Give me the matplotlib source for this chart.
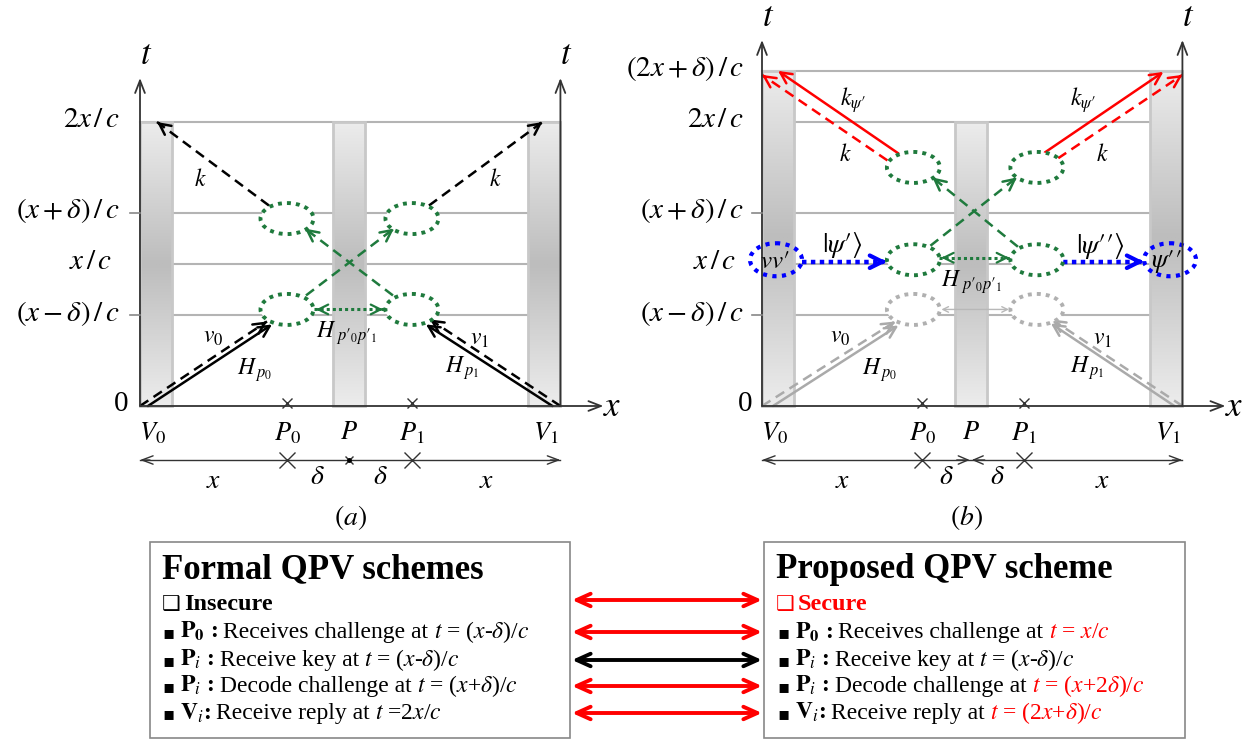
import numpy as np
import matplotlib.pyplot as plt
from matplotlib.patches import Ellipse, Rectangle
from matplotlib.colors import LinearSegmentedColormap
from matplotlib.offsetbox import TextArea, HPacker, AnnotationBbox

plt.rcParams['font.family'] = ['Liberation Serif', 'DejaVu Sans']
plt.rcParams['mathtext.fontset'] = 'stix'

# positions along space (units of x) for V0, P0, P, P1, V1
space_names = [r'$V_0$', r'$P_0$', r'$P$', r'$P_1$', r'$V_1$']
space_a = [0.0, 1.0, 1.42, 1.85, 2.86]
space_b = [0.0, 1.09, 1.42, 1.78, 2.86]

# time levels (units of x/c)
time_names_a = ['0', r'$(x-\delta)\,/\,c$', r'$x\,/\,c$', r'$(x+\delta)\,/\,c$', r'$2x\,/\,c$']
time_a = [0.0, 0.64, 1.0, 1.36, 2.0]
time_names_b = time_names_a + [r'$(2x+\delta)\,/\,c$']
time_b = [0.0, 0.64, 1.0, 1.36, 2.0, 2.36]

# event bubbles
bubble_t_a = [0.68, 1.32]
bubble_x_b = [1.03, 1.87]
bubble_t_b = [0.68, 1.03, 1.68]

# comparison boxes
formal_keys = [r'$\mathbf{P}_\mathbf{0}$ :', r'$\mathbf{P}_{\mathit{i}}$ :',
               r'$\mathbf{P}_{\mathit{i}}$ :', r'$\mathbf{V}_{\mathit{i}}$:']
actions = ['Receives challenge at', 'Receive key at', 'Decode challenge at', 'Receive reply at']
formal_times = [r'$t$ = ($x$-$\delta$)/$c$', r'$t$ = ($x$-$\delta$)/$c$',
                r'$t$ = ($x$+$\delta$)/$c$', r'$t$ =2$x$/$c$']
proposed_times = [r'$t$ = $x$/$c$', r'$t$ = ($x$-$\delta$)/$c$',
                  r'$t$ = ($x$+2$\delta$)/$c$', r'$t$ = (2$x$+$\delta$)/$c$']
proposed_colors = ['red', 'black', 'red', 'red']
link_colors = ['red', 'red', 'black', 'red', 'red']

GREEN = '#1f7a3d'
RED = '#ff0000'
BLUE = '#0000ff'
LGRAY = '#b4b4b4'
AX = '#333333'
PR = '\u2032'

ORIGIN = {'a': 140, 'b': 762}
Y0 = 406
SX, SY = 147, 142
BW = 32
EW, EH = 53, 31


def px(p, u):
    return ORIGIN[p] + SX * u


def py(t):
    return Y0 - SY * t


fig = plt.figure(figsize=(12.6, 7.4), dpi=100)
ax = fig.add_axes([0, 0, 1, 1])

bar_cmap = LinearSegmentedColormap.from_list('bar', ['#ececec', '#bdbdbd'])
grad = np.concatenate([np.linspace(0, 1, 60), np.linspace(1, 0, 60)])[:, None]


def gray_bar(x0, t_top):
    ax.imshow(grad, cmap=bar_cmap, extent=(x0, x0 + BW, py(0), py(t_top)),
              aspect='auto', interpolation='bilinear', zorder=2)
    ax.add_patch(Rectangle((x0, py(t_top)), BW, py(0) - py(t_top), fill=False,
                           ec='#c8c8c8', lw=2, zorder=2.1))


def arrow(p0, p1, color='k', lw=1.8, style='->', hw=0.4, hl=0.8, z=5):
    ax.annotate('', xy=p1, xytext=p0, zorder=z,
                arrowprops=dict(arrowstyle=f'{style},head_width={hw},head_length={hl}',
                                color=color, lw=lw, shrinkA=0, shrinkB=0))


def head(p0, p1, color, lw=1.8, hw=0.4, hl=0.8, z=5):
    d = np.subtract(p1, p0) / np.hypot(*np.subtract(p1, p0))
    arrow((p1[0] - 3 * d[0], p1[1] - 3 * d[1]), p1, color, lw, hw=hw, hl=hl, z=z)


def dashed_arrow(p0, p1, color='k', lw=1.8, ls=(0, (4, 2.5)), hw=0.4, hl=0.8, z=5):
    ax.plot([p0[0], p1[0]], [p0[1], p1[1]], color=color, lw=lw, ls=ls, zorder=z)
    head(p0, p1, color, lw, hw, hl, z)


def dotted_double(x0, x1, y, color=GREEN):
    ax.plot([x0, x1], [y, y], color=color, lw=2.2, ls=(0, (1, 1)), zorder=7)
    head((x1, y), (x0 + 2, y), color, lw=1.6, hw=0.35, hl=0.7, z=7)
    head((x0, y), (x1 - 2, y), color, lw=1.6, hw=0.35, hl=0.7, z=7)


def bubble(c, color=GREEN, fill='white', w=EW, h=EH, lw=2.8):
    ax.add_patch(Ellipse(c, w, h, fc=fill, ec=color, lw=lw, ls=(0, (1, 1.3)), zorder=6))


def math(x, y, s, size=17, ha='center', **kw):
    ax.text(x, y, s, fontsize=size, ha=ha, va='center', zorder=8, **kw)


def frame(p, space, times, names, t_axis_top, label_end, tick_idx):
    x0, x1 = px(p, space[0]), px(p, space[-1])
    # t axes and x axis
    for xx in (x0, x1):
        arrow((xx, Y0), (xx, t_axis_top), AX, lw=1.3, hw=0.35, hl=0.9, z=7)
        math(xx + 6, t_axis_top - 22, r'$t$', size=25)
    arrow((x0, Y0), (x1 + 43, Y0), AX, lw=1.3, hw=0.35, hl=0.9, z=7)
    math(x1 + 52, Y0 + 2, r'$x$', size=25)
    # level labels and ticks
    for i, (t, s) in enumerate(zip(times, names)):
        off = {r'$x\,/\,c$': -8, '0': 8}.get(s, 0)
        math(label_end + off, py(t) - 2, s, size=21, ha='right')
        if i in tick_idx:
            ax.plot([x0 - 10, x0], [py(t), py(t)], color='#888888', lw=1.2, zorder=7)
    # space labels
    offs = [12, 0, 0, 0, -15]
    for u, s, o in zip(space, space_names, offs):
        math(px(p, u) + o, Y0 + 27, s, size=19)
    for u in (space[1], space[3]):
        ax.plot(px(p, u), Y0 - 3, marker='x', color=AX, ms=7, mew=1, zorder=8)
    # dimension line
    yd = 460
    arrow((x0 + 10, yd), (x0, yd), AX, lw=1, hw=0.3, hl=0.8)
    arrow((x1 - 10, yd), (x1, yd), AX, lw=1, hw=0.3, hl=0.8)
    ax.plot([x0, x1], [yd, yd], color=AX, lw=1, zorder=5)
    for u in (space[1], space[3]):
        ax.plot(px(p, u), yd, marker='x', color=AX, ms=11, mew=1, zorder=6)
    for k, s in enumerate([r'$x$', r'$\delta$', r'$\delta$', r'$x$']):
        mid = 0.5 * (space[k] + space[k + 1])
        math(px(p, mid), yd + (22 if s == r'$x$' else 18), s, size=20)


# ---------------- panel (a) ----------------
P0a, Pa, P1a, V1a = [px('a', u) for u in space_a[1:]]
V0a = px('a', 0)
ax.plot([V0a, V1a], [py(2.0)] * 2, color=LGRAY, lw=1.5, zorder=1)
for t in time_a[1:4]:
    ax.plot([V0a + BW, V1a - BW], [py(t)] * 2, color=LGRAY, lw=1.5, zorder=1)
gray_bar(V0a, 2.0)
gray_bar(Pa - BW / 2, 2.0)
gray_bar(V1a - BW, 2.0)
frame('a', space_a, time_a, time_names_a, 78, 120, [1, 3])
ax.plot(Pa, 460, marker='x', color=AX, ms=6, mew=1, zorder=6)
ax.plot(Pa, 460, marker='.', color='k', ms=5, zorder=6)

lo, hi = py(bubble_t_a[0]), py(bubble_t_a[1])
for xb in (P0a, P1a):
    bubble((xb, lo))
    bubble((xb, hi))
# challenges from verifiers
dashed_arrow((V0a, Y0), (P0a - 20, lo + 12))
arrow((V0a + 8, Y0), (P0a - 15, lo + 15))
dashed_arrow((V1a, Y0), (P1a + 18, lo + 10))
arrow((V1a - 8, Y0), (P1a + 14, lo + 15))
math(213, 338, r'$v_0$')
math(255, 370, r'$H_{\,p_0}$')
math(480, 340, r'$v_1$')
math(462, 368, r'$H_{\,p_1}$')
# exchange between provers
dashed_arrow((P0a + 19, lo - 14), (P1a - 18, hi + 10), GREEN, lw=1.8)
dashed_arrow((P1a - 19, lo - 14), (P0a + 18, hi + 10), GREEN, lw=1.8)
dotted_double(P0a + 27, P1a - 27, lo)
math(347, 333, rf'$H_{{\ p{PR}_0p{PR}_1}}$')
# replies
dashed_arrow((P0a - 18, hi - 13), (V0a + 17, py(2.0)))
dashed_arrow((P1a + 17, hi - 13), (V1a - 18, py(2.0)))
math(200, 180, r'$k$')
math(495, 180, r'$k$')
math(Pa + 2, 518, r'$(a)$', size=20)

# ---------------- panel (b) ----------------
P0b, Pb, P1b, V1b = [px('b', u) for u in space_b[1:]]
V0b = px('b', 0)
ax.plot([V0b, V1b], [py(2.36)] * 2, color=LGRAY, lw=1.5, zorder=1)
for t in time_b[1:5]:
    ax.plot([V0b + BW, V1b - BW], [py(t)] * 2, color=LGRAY, lw=1.5, zorder=1)
gray_bar(V0b, 2.36)
gray_bar(Pb - BW / 2, 2.0)
gray_bar(V1b - BW, 2.36)
frame('b', space_b, time_b, time_names_b, 40, 744, [1, 3])
arrow((Pb - 14, 460), (Pb - 1, 460), AX, lw=1, hw=0.3, hl=0.7)
arrow((Pb + 14, 460), (Pb + 1, 460), AX, lw=1, hw=0.3, hl=0.7)

L, R = px('b', bubble_x_b[0]), px('b', bubble_x_b[1])
g, m, top = [py(t) for t in bubble_t_b]
for xb in (L, R):
    bubble((xb, g), color='#b0b0b0')
    bubble((xb, m))
    bubble((xb, top))
GR = '#aaaaaa'
dashed_arrow((V0b, Y0), (L - 18, g + 12), GR)
arrow((V0b + 11, Y0), (L - 15, g + 16), GR)
dashed_arrow((V1b, Y0), (R + 15, g + 10), GR)
arrow((V1b - 8, Y0), (R + 14, g + 14), GR)
arrow((L + 28, g), (R - 28, g), '#b8b8b8', lw=1, style='<->', hw=0.2, hl=0.4, z=5)
math(840, 338, r'$v_0$')
math(880, 370, r'$H_{\,p_0}$')
math(1103, 340, r'$v_1$')
math(1087, 368, r'$H_{\,p_1}$')

# entangled states from verifiers
bubble((776, m), color=BLUE, fill='none', w=52, h=33, lw=3)
bubble((1170, m), color=BLUE, fill='none', w=52, h=33, lw=3)
math(775, m + 2, rf'$vv{PR}$', size=18)
math(1166, m + 2, rf'$\psi{PR}{PR}$', size=19)
for a0, a1 in ((802, L - EW / 2), (R + EW / 2, 1144)):
    ax.plot([a0, a1 - 4], [m + 2, m + 2], color=BLUE, lw=3.2, ls=(0, (1, 1)), zorder=5)
    arrow((a1 - 6, m + 2), (a1, m + 2), BLUE, lw=3, hw=0.45, hl=0.9)
math(842, 245, rf'$|\psi{PR}\rangle$', size=20)
math(1100, 246, rf'$|\psi{PR}{PR}\rangle$', size=20)

dashed_arrow((L + 17, m - 14), (R - 20, top + 10), GREEN)
dashed_arrow((R - 19, m - 13), (L + 19, top + 10), GREEN)
dotted_double(L + 26, R - 26, m - 2)
math(972, 282, rf'$H_{{\ p{PR}_0p{PR}_1}}$')

# replies
arrow((L - 15, top - 14), (V0b + 16, py(2.36)), RED, lw=1.8)
dashed_arrow((L - 26, top - 7), (V0b, py(2.36) + 4), RED)
arrow((R + 8, top - 15), (V1b - 19, py(2.36) + 1), RED, lw=1.8)
dashed_arrow((R + 21, top - 9), (V1b, py(2.36) + 4), RED)
math(853, 100, rf'$k_{{\psi{PR}}}$')
math(845, 155, r'$k$')
math(1083, 100, rf'$k_{{\psi{PR}}}$')
math(1102, 155, r'$k$')
math(Pb - 4, 518, r'$(b)$', size=20)

# ---------------- comparison boxes ----------------
ax.add_patch(Rectangle((150, 542), 420, 196, fill=False, ec='#888888', lw=1.2))
ax.add_patch(Rectangle((764, 542), 421, 196, fill=False, ec='#888888', lw=1.2))
ax.text(162, 570, 'Formal QPV schemes', fontsize=25, fontweight='bold', va='center')
ax.text(776, 570, 'Proposed QPV scheme', fontsize=25, fontweight='bold', va='center')
ax.text(162, 604, '\u2751', fontsize=15, family='DejaVu Sans', va='center')
ax.text(184, 604, 'Insecure', fontsize=17.5, fontweight='bold', va='center')
ax.text(776, 604, '\u2751', fontsize=15, family='DejaVu Sans', va='center', color=RED)
ax.text(798, 604, 'Secure', fontsize=17.5, fontweight='bold', va='center', color=RED)

row_y = [632, 660, 686, 713]


def row(x, y, key, act, tm, tcol):
    parts = [TextArea('\u25aa', textprops=dict(fontsize=13, family='DejaVu Sans')),
             TextArea(key, textprops=dict(fontsize=17, fontweight='bold')),
             TextArea(act, textprops=dict(fontsize=17)),
             TextArea(tm, textprops=dict(fontsize=17, color=tcol))]
    pack = HPacker(children=parts, align='baseline', pad=0, sep=4)
    ax.add_artist(AnnotationBbox(pack, (x, y), xycoords='data', box_alignment=(0, 0.5),
                                 frameon=False, pad=0))


for i, y in enumerate(row_y):
    row(162, y, formal_keys[i], actions[i], formal_times[i], 'black')
    row(777, y, formal_keys[i], actions[i], proposed_times[i], proposed_colors[i])

for y, c in zip([600] + row_y, link_colors):
    arrow((572, y), (762, y), c, lw=2.8, style='<->', hw=0.45, hl=1.0)

ax.set_xlim(0, 1260)
ax.set_ylim(740, 0)
ax.axis('off')
fig.savefig('out.png', dpi=100, facecolor='white')
